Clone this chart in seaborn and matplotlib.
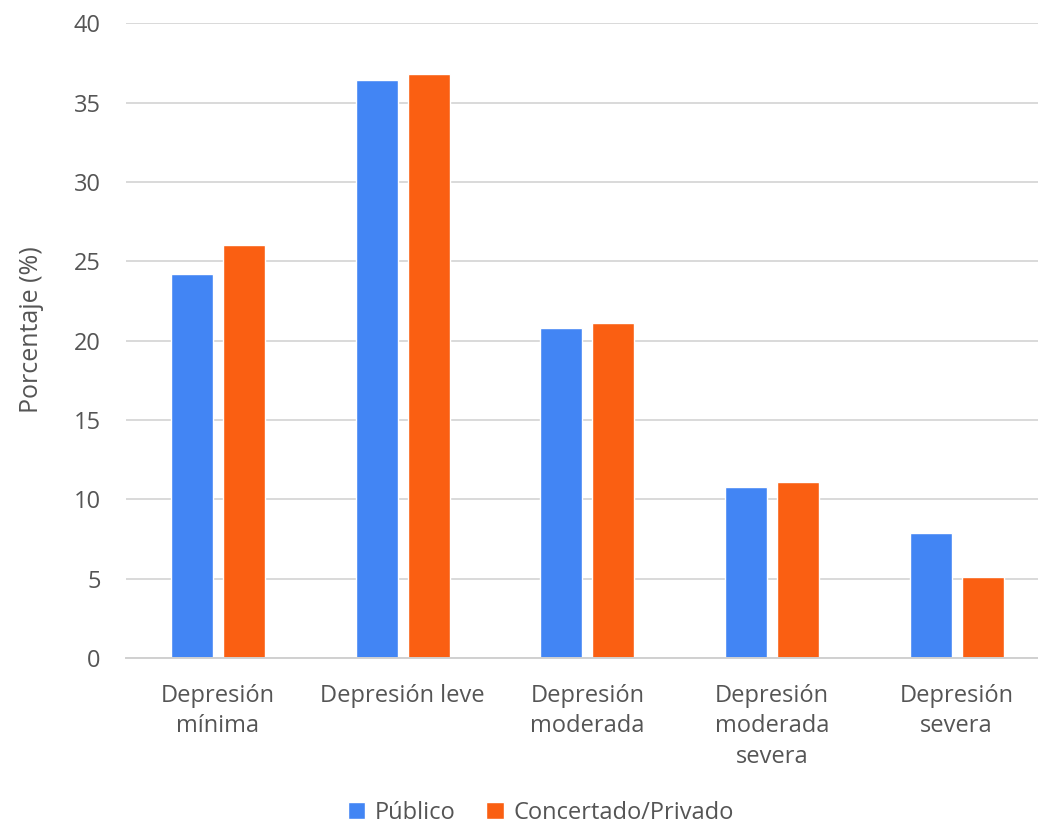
import matplotlib
matplotlib.use('Agg')
import matplotlib.pyplot as plt
import seaborn as sns
import pandas as pd
from matplotlib.patches import Patch

categorias = ['Depresión\nmínima', 'Depresión leve', 'Depresión\nmoderada',
              'Depresión\nmoderada\nsevera', 'Depresión\nsevera']
publico = [24.2, 36.4, 20.8, 10.8, 7.9]
privado = [26.0, 36.8, 21.1, 11.1, 5.1]
series = ['Público', 'Concertado/Privado']
colores = ['#4285F4', '#FA5F12']

df = pd.DataFrame({
    'categoria': categorias * 2,
    'valor': publico + privado,
    'centro': [series[0]] * len(categorias) + [series[1]] * len(categorias),
})

sns.set_style('white')
plt.rcParams['font.family'] = ['Open Sans', 'DejaVu Sans']
texto = '#555555'

fig = plt.figure(figsize=(10.38, 8.26), dpi=100)
ax = fig.add_axes([125.6 / 1038, 1 - 657.8 / 826, (1049 - 125.6) / 1038, (657.8 - 23.4) / 826])

sns.barplot(data=df, x='categoria', y='valor', hue='centro', palette=colores,
            width=0.564, gap=0.195, ax=ax, legend=False, saturation=1)

ax.set_ylim(0, 40)
ax.set_xlim(-0.5, 4.5)
ax.set_yticks(range(0, 41, 5))
ax.yaxis.grid(True, color='#d9d9d9', linewidth=1.4)
ax.set_axisbelow(True)
for s in ['top', 'right', 'left']:
    ax.spines[s].set_visible(False)
ax.spines['bottom'].set_color('#d0d0d0')
ax.spines['bottom'].set_linewidth(1.4)
ax.tick_params(axis='y', length=0, pad=18, labelsize=17, labelcolor=texto)
ax.tick_params(axis='x', length=0, pad=19, labelsize=17, labelcolor=texto)
for lbl in ax.get_xticklabels():
    lbl.set_linespacing(1.35)
ax.set_xlabel('')
ax.set_ylabel('Porcentaje (%)', fontsize=18, color=texto)
ax.yaxis.set_label_coords(-0.0884, 0.517)

handles = [Patch(facecolor=c, label=l) for c, l in zip(colores, series)]
fig.legend(handles=handles, loc='center', bbox_to_anchor=(0.521, 1 - 813 / 826),
           ncol=2, frameon=False, fontsize=17, labelcolor=texto,
           handlelength=0.75, handleheight=0.75, handletextpad=0.4, columnspacing=1.3)

fig.savefig('out.png', dpi=100)
